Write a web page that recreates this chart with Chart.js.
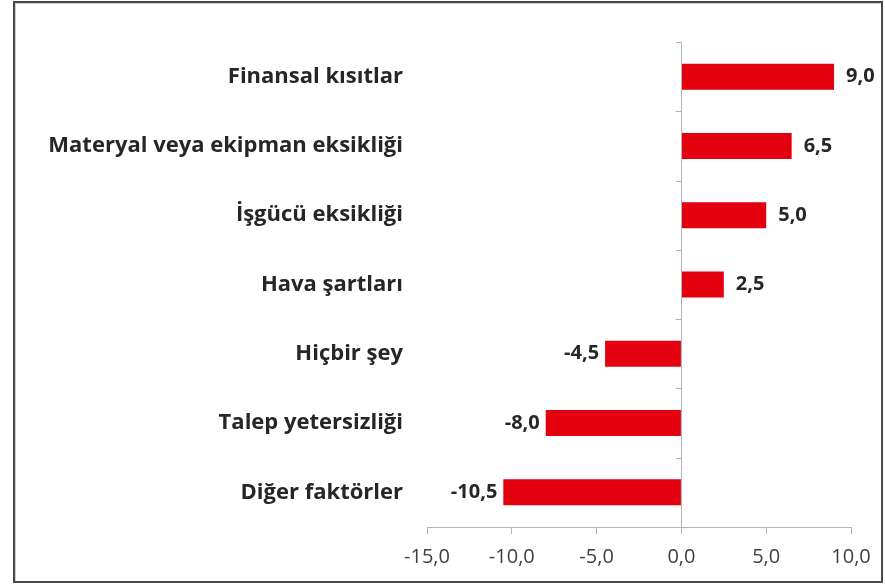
<!DOCTYPE html>
<html>
<head>
<meta charset="utf-8">
<script src="https://cdn.jsdelivr.net/npm/chart.js@4.4.0/dist/chart.umd.min.js"></script>
<style>
    html, body { margin: 0; padding: 0; background: #ffffff; }
    #wrap { position: relative; width: 885px; height: 588px; }
    #cerceve {
        position: absolute; left: 13px; top: 1px; width: 866px; height: 578px;
        border: 2px solid #4a4a4a; box-shadow: inset 1px 1px 0 #d0d0d0;
    }
    canvas { position: absolute; left: 0; top: 0; }
</style>
</head>
<body>
<div id="wrap">
    <div id="cerceve"></div>
    <canvas id="grafik" width="885" height="588"></canvas>
</div>
<script>
    // faktörler (yukarıdan aşağıya)
    const faktorler = [
        'Finansal kısıtlar',
        'Materyal veya ekipman eksikliği',
        'İşgücü eksikliği',
        'Hava şartları',
        'Hiçbir şey',
        'Talep yetersizliği',
        'Diğer faktörler'
    ];
    const degerler = [9.0, 6.5, 5.0, 2.5, -4.5, -8.0, -10.5];
    const eksenMin = -15;
    const eksenMax = 10;
    const eksenAdim = 5;

    const kirmizi = '#e3000f';
    const yaziRengi = '#262626';
    const eksenRengi = '#b4b4b4';

    function virgullu(v) {
        return Number(v).toFixed(1).replace('.', ',');
    }

    // sıfır çizgisi ve kategori çentikleri
    const sifirCizgisi = {
        id: 'sifirCizgisi',
        afterDatasetsDraw(chart) {
            const ctx = chart.ctx;
            const x = chart.scales.x;
            const y = chart.scales.y;
            const x0 = Math.round(x.getPixelForValue(0)) + 0.5;
            ctx.save();
            ctx.strokeStyle = eksenRengi;
            ctx.lineWidth = 1;
            ctx.beginPath();
            ctx.moveTo(x0, chart.chartArea.top);
            ctx.lineTo(x0, chart.chartArea.bottom);
            for (let i = 0; i <= faktorler.length; i++) {
                const py = Math.round(y.getPixelForValue(i - 0.5)) + 0.5;
                ctx.moveTo(x0 - 6, py);
                ctx.lineTo(x0, py);
            }
            ctx.stroke();
            ctx.restore();
        }
    };

    // bar uçlarındaki değer etiketleri
    const degerEtiketleri = {
        id: 'degerEtiketleri',
        afterDatasetsDraw(chart) {
            const ctx = chart.ctx;
            const meta = chart.getDatasetMeta(0);
            ctx.save();
            ctx.font = 'bold 20px "Open Sans", sans-serif';
            ctx.fillStyle = yaziRengi;
            ctx.textBaseline = 'middle';
            meta.data.forEach(function (bar, i) {
                const v = degerler[i];
                if (v >= 0) {
                    ctx.textAlign = 'left';
                    ctx.fillText(virgullu(v), bar.x + 12, bar.y);
                } else {
                    ctx.textAlign = 'right';
                    ctx.fillText(virgullu(v), bar.x - 6, bar.y);
                }
            });
            ctx.restore();
        }
    };

    new Chart(document.getElementById('grafik'), {
        type: 'bar',
        data: {
            labels: faktorler,
            datasets: [{
                data: degerler,
                backgroundColor: kirmizi,
                barPercentage: 0.75,
                categoryPercentage: 0.5
            }]
        },
        options: {
            indexAxis: 'y',
            responsive: false,
            animation: false,
            layout: {
                padding: { left: 0, right: 34, top: 42, bottom: 8 }
            },
            plugins: {
                legend: { display: false },
                tooltip: { enabled: false }
            },
            scales: {
                x: {
                    min: eksenMin,
                    max: eksenMax,
                    ticks: {
                        stepSize: eksenAdim,
                        padding: 11,
                        color: '#404040',
                        font: { family: '"Open Sans", sans-serif', size: 20 },
                        callback: function (v) { return virgullu(v); }
                    },
                    grid: {
                        drawOnChartArea: false,
                        drawTicks: true,
                        tickLength: 7,
                        color: eksenRengi
                    },
                    border: { color: eksenRengi }
                },
                y: {
                    afterFit: function (scale) { scale.width = 427; },
                    grid: { display: false },
                    border: { display: false },
                    ticks: {
                        padding: 16,
                        color: yaziRengi,
                        font: { family: '"Open Sans", sans-serif', size: 22, weight: 'bold' }
                    }
                }
            }
        },
        plugins: [sifirCizgisi, degerEtiketleri]
    });
</script>
</body>
</html>
